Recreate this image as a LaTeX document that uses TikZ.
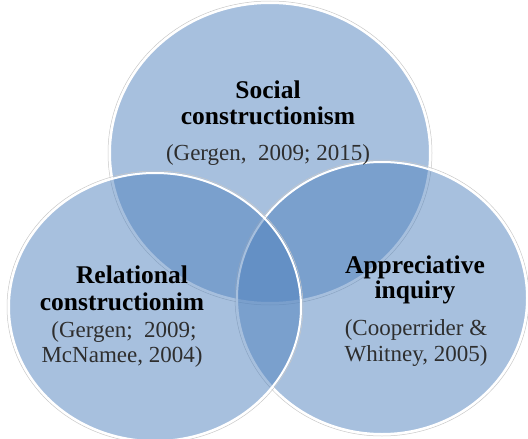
\documentclass[tikz,border=0pt]{standalone}
\usepackage{fontspec}
\setmainfont{Liberation Serif}
\definecolor{vennblue}{HTML}{4F81BD}
\definecolor{shadowgray}{HTML}{C8C8C8}
\tikzset{
  venn/.style={fill=vennblue, fill opacity=0.5, draw=white, line width=2pt},
  vennshadow/.style={draw=shadowgray, line width=0.5pt},
  title/.style={font=\fontsize{25.5}{28}\selectfont\bfseries, text=black, anchor=base, inner sep=0pt},
  cite/.style={font=\fontsize{23}{26}\selectfont, text=black!82, anchor=base, inner sep=0pt},
}
\begin{document}
\begin{tikzpicture}[x=1pt, y=-1pt]
\useasboundingbox (0,0) rectangle (528,439);
% top circle
\draw[vennshadow] (270,153) ellipse [x radius=162, y radius=152];
\path[venn] (270,153) ellipse [x radius=160, y radius=150];
\node[coordinate] (top) at (270,153) {};
% right circle
\draw[vennshadow] (382,298) ellipse [x radius=147, y radius=138];
\path[venn] (382,298) ellipse [x radius=145, y radius=136];
\node[coordinate] (right) at (382,298) {};
% left circle
\draw[vennshadow] (155,307) ellipse [x radius=148, y radius=136];
\path[venn] (155,307) ellipse [x radius=146, y radius=134];
\node[coordinate] (left) at (155,307) {};
% texts
\node[title] (t1) at (268,98) {Social};
\node[title] (t2) at (268,124) {constructionism};
\node[cite]  (t3) at (268,160) {(Gergen,\ \ 2009; 2015)};
\node[title] (l1) at (132,283) {Relational};
\node[title] (l2) at (122,310) {constructionim};
\node[cite]  (l3) at (124,337) {(Gergen;\ \ 2009;};
\node[cite]  (l4) at (122,362) {McNamee,\ 2004)};
\node[title] (r1) at (415,273) {Appreciative};
\node[title] (r2) at (415,298) {inquiry};
\node[cite]  (r3) at (416,335) {(Cooperrider \&};
\node[cite]  (r4) at (416,361) {Whitney, 2005)};
\end{tikzpicture}
\end{document}
